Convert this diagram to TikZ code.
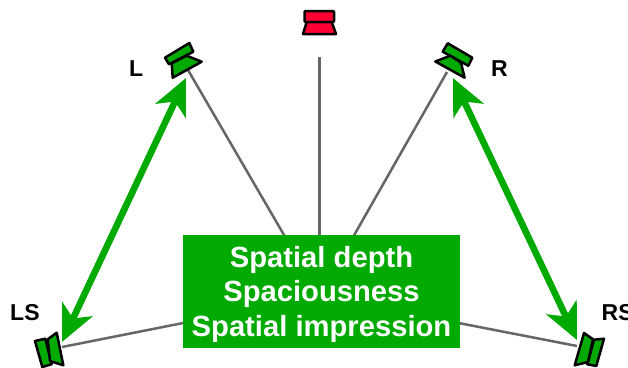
\documentclass[tikz,border=0pt]{standalone}
\usepackage{fontspec}
\setmainfont{Liberation Sans}
\usetikzlibrary{arrows.meta}
\definecolor{spkgreen}{HTML}{00AA00}
\definecolor{spkred}{HTML}{FF0033}
\definecolor{wire}{HTML}{666666}
\tikzset{
  greenpart/.style={draw=black,fill=spkgreen,line width=2.5pt,line join=round},
  redpart/.style={draw=black,fill=spkred,line width=2.5pt,line join=round},
  wireline/.style={draw=wire,line width=2.5pt},
  dblarrow/.style={draw=spkgreen,line width=6.6pt,
    {Stealth[length=36pt,width=33pt,inset=10pt]}-{Stealth[length=36pt,width=33pt,inset=10pt]}},
  chanlabel/.style={font=\fontsize{23}{23}\selectfont\bfseries,anchor=base west,inner sep=0pt},
  mainbox/.style={fill=spkgreen,minimum width=277pt,minimum height=113pt,inner sep=0pt},
  boxtext/.style={text=white,inner sep=0pt,align=center,font=\fontsize{29.2}{34.5}\selectfont\bfseries}
}
\begin{document}
\begin{tikzpicture}[x=1pt,y=-1pt]
\clip (0,0) rectangle (628,367);
\fill[white] (0,0) rectangle (628,367);
% anchor points
\coordinate (hub) at (319.5,296);
\coordinate (cfoot) at (319.5,57);
\coordinate (lfoot) at (188,70);
\coordinate (rfoot) at (447,72);
\coordinate (lsfoot) at (62,347);
\coordinate (rsfoot) at (577,346);
\coordinate (ltip) at (186,78);
\coordinate (lstip) at (62,342);
\coordinate (rtip) at (453,78);
\coordinate (rstip) at (577,340);
% connectors
\draw[wireline] (cfoot) -- (hub);
\draw[wireline] (lfoot) -- (hub);
\draw[wireline] (rfoot) -- (hub);
\draw[wireline] (lsfoot) -- (hub);
\draw[wireline] (rsfoot) -- (hub);
\draw[dblarrow] (ltip) -- (lstip);
\draw[dblarrow] (rtip) -- (rstip);
% centre box
\node[mainbox] (box) at (321.5,291.5) {};
\node[boxtext] (boxlabel) at (321.5,294) {Spatial depth\\Spaciousness\\Spatial impression};
% centre speaker
\draw[redpart,rounded corners=1pt] (304.5,11) rectangle (334,22);
\draw[redpart] (306.7,22) -- (331.7,22) -- (336,34) -- (303,34) -- cycle;
% L
\draw[greenpart] (165,57.7) -- (189.3,43) -- (193.3,51.7) -- (169,64.3) -- cycle;
\draw[greenpart] (172.7,77.7) -- (201.7,61.7) -- (186.7,55.7) -- (171.7,63.3) -- cycle;
% R
\draw[greenpart] (442.7,51.7) -- (447.7,43.3) -- (472.3,57.7) -- (468.3,65.7) -- cycle;
\draw[greenpart] (435.3,61.5) -- (464.6,77.7) -- (461,62.7) -- (450.3,55.7) -- cycle;
% LS
\draw[greenpart] (35,341) -- (45.3,338.7) -- (51.7,364.3) -- (42.3,367) -- cycle;
\draw[greenpart] (47.7,339.3) -- (56.7,332.7) -- (63.3,365.3) -- (50,361) -- cycle;
% RS
\draw[greenpart] (594,339.7) -- (604,338.7) -- (596.3,366) -- (587.3,364.3) -- cycle;
\draw[greenpart] (584,333) -- (593,339.3) -- (588,362) -- (574.7,365.3) -- cycle;
% labels
\node[chanlabel] (lbl) at (129,76) {L};
\node[chanlabel] (rbl) at (491,76) {R};
\node[chanlabel] (lslbl) at (10,320) {LS};
\node[chanlabel] (rslbl) at (601.5,320) {RS};
\end{tikzpicture}
\end{document}
